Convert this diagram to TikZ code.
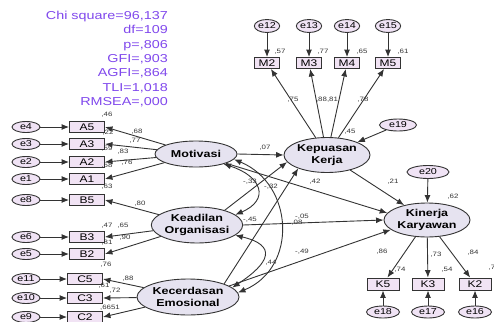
\documentclass[tikz,border=0pt]{standalone}
\usepackage{fontspec}
\setmainfont{Liberation Sans}[FakeStretch=1.25]
\usepackage{xcolor}
\usepackage{tikz}
\usetikzlibrary{shapes.geometric, arrows.meta, positioning}
\definecolor{linegray}{HTML}{333333}
\definecolor{errfill}{HTML}{F0E3F5}
\definecolor{latfill}{HTML}{E6E3F0}
\definecolor{boxfill}{HTML}{F1E3F4}
\definecolor{fitpurple}{HTML}{8048EC}
\tikzstyle{latent}    = [ellipse, draw=linegray, line width=0.9pt, fill=latfill, inner sep=0pt, align=center, font=\fontsize{10}{12.5}\selectfont\bfseries]
\tikzstyle{errvar}    = [ellipse, draw=linegray, line width=0.9pt, fill=errfill, inner sep=0pt, minimum width=28pt, minimum height=11pt, font=\fontsize{8.6}{9}\selectfont]
\tikzstyle{indicator} = [rectangle, draw=linegray, line width=0.9pt, fill=boxfill, inner sep=0pt, minimum width=35pt, minimum height=11pt, font=\fontsize{9.6}{10}\selectfont]
\tikzstyle{estimate}  = [inner sep=0pt, text=linegray, font=\fontsize{6.3}{7}\selectfont]
\tikzstyle{arrow}     = [line width=0.9pt, draw=linegray, ->, >={Latex[length=7.5pt,width=6pt]}]
\tikzstyle{covar}     = [arrow, <->]

\begin{document}
\begin{tikzpicture}[x=1pt, y=-1pt]
    \useasboundingbox (0,0) rectangle (494,321);

    % fit indices
    \node (stats) [anchor=north east, inner sep=0pt, align=right, text=fitpurple, font=\fontsize{11.5}{14.3}\selectfont] at (168,11)
        {Chi square=96,137\\df=109\\p=,806\\GFI=,903\\AGFI=,864\\TLI=1,018\\RMSEA=,000};

    % latent variables
    \node (mot)  [latent, minimum width=82pt, minimum height=26pt] at (196,154) {Motivasi};
    \node (kead) [latent, minimum width=86pt, minimum height=36pt] at (197,225) {Keadilan\\Organisasi};
    \node (kec)  [latent, minimum width=102pt, minimum height=36pt] at (188,297) {Kecerdasan\\Emosional};
    \node (kep)  [latent, minimum width=86pt, minimum height=35pt] at (327,155) {Kepuasan\\Kerja};
    \node (kin)  [latent, minimum width=86pt, minimum height=34pt] at (427,220) {Kinerja\\Karyawan};

    % left indicators
    \node (a5) [indicator] at (87,127) {A5};
    \node (a3) [indicator] at (87,144) {A3};
    \node (a2) [indicator] at (87,162) {A2};
    \node (a1) [indicator] at (87,179) {A1};
    \node (b5) [indicator] at (87,200) {B5};
    \node (b3) [indicator] at (87,237) {B3};
    \node (b2) [indicator] at (87,254) {B2};
    \node (c5) [indicator] at (85,279) {C5};
    \node (c3) [indicator] at (85,298) {C3};
    \node (c2) [indicator] at (85,317) {C2};

    \node (e4)  [errvar] at (26,127) {e4};
    \node (e3)  [errvar] at (26,144) {e3};
    \node (e2)  [errvar] at (26,162) {e2};
    \node (e1)  [errvar] at (26,179) {e1};
    \node (e8)  [errvar] at (26,200) {e8};
    \node (e6)  [errvar] at (26,237) {e6};
    \node (e5)  [errvar] at (26,254) {e5};
    \node (e11) [errvar] at (26,279) {e11};
    \node (e10) [errvar] at (26,298) {e10};
    \node (e9)  [errvar] at (26,317) {e9};

    % top indicators
    \node (m2) [indicator, minimum width=25pt] at (267,63) {M2};
    \node (m3) [indicator, minimum width=25pt] at (309,63) {M3};
    \node (m4) [indicator, minimum width=25pt] at (347,63) {M4};
    \node (m5) [indicator, minimum width=25pt] at (388,63) {M5};
    \node (e12) [errvar, minimum width=25pt, minimum height=13pt] at (267,26) {e12};
    \node (e13) [errvar, minimum width=25pt, minimum height=13pt] at (309,26) {e13};
    \node (e14) [errvar, minimum width=25pt, minimum height=13pt] at (347,26) {e14};
    \node (e15) [errvar, minimum width=25pt, minimum height=13pt] at (388,26) {e15};
    \node (e19) [errvar, minimum width=37pt, minimum height=12pt] at (398,125) {e19};

    % right indicators
    \node (e20) [errvar, minimum width=42pt, minimum height=13pt] at (428,172) {e20};
    \node (k5) [indicator, minimum width=32pt, minimum height=12pt] at (383,284) {K5};
    \node (k3) [indicator, minimum width=32pt, minimum height=12pt] at (428,284) {K3};
    \node (k2) [indicator, minimum width=32pt, minimum height=12pt] at (475,284) {K2};
    \node (e18) [errvar, minimum width=33pt, minimum height=12pt] at (383,312) {e18};
    \node (e17) [errvar, minimum width=33pt, minimum height=12pt] at (428,312) {e17};
    \node (e16) [errvar, minimum width=33pt, minimum height=12pt] at (475,312) {e16};

    % error terms
    \draw [arrow] (e4) -- (a5);
    \draw [arrow] (e3) -- (a3);
    \draw [arrow] (e2) -- (a2);
    \draw [arrow] (e1) -- (a1);
    \draw [arrow] (e8) -- (b5);
    \draw [arrow] (e6) -- (b3);
    \draw [arrow] (e5) -- (b2);
    \draw [arrow] (e11) -- (c5);
    \draw [arrow] (e10) -- (c3);
    \draw [arrow] (e9) -- (c2);
    \draw [arrow] (e12) -- (m2);
    \draw [arrow] (e13) -- (m3);
    \draw [arrow] (e14) -- (m4);
    \draw [arrow] (e15) -- (m5);
    \draw [arrow] (e18) -- (k5);
    \draw [arrow] (e17) -- (k3);
    \draw [arrow] (e16) -- (k2);
    \draw [arrow] (e19) -- (kep);
    \draw [arrow] (e20) -- (kin);

    % loadings
    \draw [arrow] (mot) -- (a5.east);
    \draw [arrow] (mot) -- (a3.east);
    \draw [arrow] (mot) -- (a2.east);
    \draw [arrow] (mot) -- (a1.east);
    \draw [arrow] (kead) -- (b5.east);
    \draw [arrow] (kead) -- (b3.east);
    \draw [arrow] (kead) -- (b2.east);
    \draw [arrow] (kec) -- (c5.east);
    \draw [arrow] (kec) -- (c3.east);
    \draw [arrow] (kec) -- (c2.east);
    \draw [arrow] (kep) -- (m2);
    \draw [arrow] (kep) -- (m3);
    \draw [arrow] (kep) -- (m4);
    \draw [arrow] (kep) -- (m5);
    \draw [arrow] (kin) -- (k5);
    \draw [arrow] (kin) -- (k3);
    \draw [arrow] (kin) -- (k2);

    % structural paths
    \draw [arrow] (mot.east) -- (kep.west);
    \draw [arrow] (mot) -- (kin.170);
    \draw [arrow] (kead.28) -- (kep.190);
    \draw [arrow] (kead.east) -- (kin.west);
    \draw [arrow] (kec.20) -- (kep.205);
    \draw [arrow] (kec.15) -- (kin.195);
    \draw [arrow] (kep) -- (kin);

    % covariances
    \draw [covar] (mot.-20) .. controls +(38,12) and +(35,-15) .. (kead.15);
    \draw [covar] (mot.-8) .. controls +(60,25) and +(60,-25) .. (kec.5);
    \draw [covar] (kead.-15) .. controls +(42,10) and +(38,-25) .. (kec.12);

    % estimates
    \node (r-a5) [estimate] at (107,115) {,46};
    \node (r-a3) [estimate] at (108,133) {,22};
    \node (r-a2) [estimate] at (107,149) {,59};
    \node (r-a1) [estimate] at (107,166) {,58};
    \node (r-b5) [estimate] at (107,187) {,63};
    \node (r-b3) [estimate] at (107,226) {,47};
    \node (r-b2) [estimate] at (107,243) {,81};
    \node (r-c5) [estimate] at (106,265) {,76};
    \node (r-c3) [estimate] at (104,286) {,61};
    \node (r-c2) [estimate] at (110,308) {,6651};
    \node (w-a5) [estimate] at (137,132) {,68};
    \node (w-a3) [estimate] at (135,141) {,77};
    \node (w-a2) [estimate] at (123,152) {,83};
    \node (w-a1) [estimate] at (127,163) {,76};
    \node (w-b5) [estimate] at (140,204) {,80};
    \node (w-b3) [estimate] at (123,226) {,65};
    \node (w-b2) [estimate] at (125,238) {,90};
    \node (w-c5) [estimate] at (128,279) {,88};
    \node (w-c3) [estimate] at (115,291) {,72};

    \node (r-m2) [estimate] at (280,52) {,57};
    \node (r-m3) [estimate] at (323,52) {,77};
    \node (r-m4) [estimate] at (362,52) {,65};
    \node (r-m5) [estimate] at (403,52) {,61};
    \node (w-m2) [estimate] at (293,100) {,75};
    \node (w-m3) [estimate] at (327,100) {,88,81};
    \node (w-m5) [estimate] at (363,100) {,78};
    \node (r-kep) [estimate] at (350,132) {,45};

    \node (p-motkep)  [estimate] at (265,148) {,07};
    \node (p-motkin)  [estimate] at (315,182) {,42};
    \node (p-keadkep) [estimate] at (250,182) {-,33};
    \node (c-motkec)  [estimate] at (271,187) {-,32};
    \node (c-motkead) [estimate] at (250,220) {-,45};
    \node (p-keadkin) [estimate] at (302,217) {-,05};
    \node (p-keckep)  [estimate] at (297,223) {,08};
    \node (p-keckin)  [estimate] at (302,252) {-,49};
    \node (c-keadkec) [estimate] at (271,263) {,44};
    \node (p-kepkin)  [estimate] at (393,182) {,21};
    \node (r-kin)     [estimate] at (453,197) {,62};

    \node (w-k5) [estimate] at (382,252) {,86};
    \node (w-k3) [estimate] at (436,255) {,73};
    \node (w-k2) [estimate] at (473,253) {,84};
    \node (r-k5) [estimate] at (400,270) {,74};
    \node (r-k3) [estimate] at (447,270) {,54};
    \node (r-k2) [estimate] at (492,268) {,7};
\end{tikzpicture}
\end{document}
